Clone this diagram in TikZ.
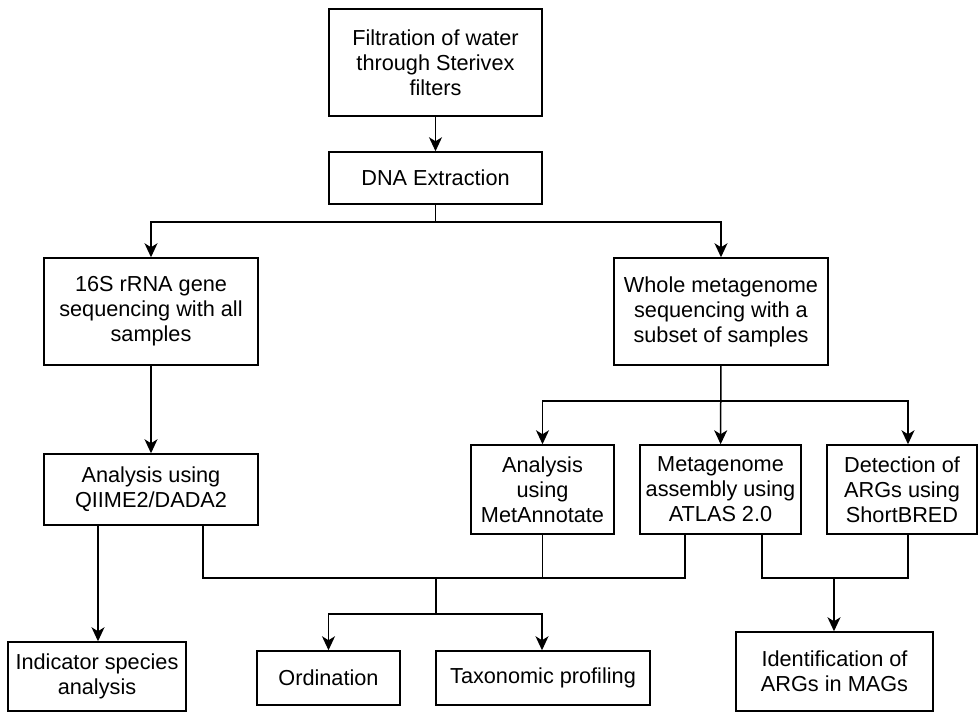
\documentclass[tikz,border=0pt]{standalone}
\usepackage{fontspec}
\setmainfont{Liberation Sans}
\usetikzlibrary{arrows.meta}
\begin{document}
\begin{tikzpicture}[x=1pt,y=-1pt,
  box/.style={draw, line width=1.5pt, rectangle, align=center, inner sep=2pt,
    font=\fontsize{21.7}{25}\selectfont},
  conn/.style={line width=1.5pt},
  arr/.style={conn, -{Stealth[length=14pt,width=13pt,inset=4pt]}}]
\useasboundingbox (0,0) rectangle (978,712);
% boxes
\node[box, minimum width=213pt, minimum height=107pt] (filt) at (435.5,62.5) {Filtration of water\\through Sterivex\\filters};
\node[box, minimum width=213pt, minimum height=52pt] (dna) at (435.5,178) {DNA Extraction};
\node[box, minimum width=214pt, minimum height=107pt] (s16) at (151,311.5) {16S rRNA gene\\sequencing with all\\samples};
\node[box, minimum width=214pt, minimum height=107pt] (whole) at (721,311.5) {Whole metagenome\\sequencing with a\\subset of samples};
\node[box, minimum width=214pt, minimum height=71pt] (qiime) at (151,489.5) {Analysis using\\QIIME2/DADA2};
\node[box, minimum width=143pt, minimum height=89pt] (metann) at (542.5,489.5) {Analysis\\using\\MetAnnotate};
\node[box, minimum width=161pt, minimum height=89pt] (metag) at (720.5,489.5) {Metagenome\\assembly using\\ATLAS 2.0};
\node[box, minimum width=150pt, minimum height=89pt] (detect) at (902,489.5) {Detection of\\ARGs using\\ShortBRED};
\node[box, minimum width=178pt, minimum height=69pt] (indic) at (97,676.5) {Indicator species\\analysis};
\node[box, minimum width=143pt, minimum height=54pt] (ordin) at (328.5,678) {Ordination};
\node[box, minimum width=214pt, minimum height=54pt] (taxo) at (543,678) {Taxonomic profiling};
\node[box, minimum width=197pt, minimum height=79pt] (ident) at (834.5,671.5) {Identification of\\ARGs in MAGs};
% junction coordinates
\coordinate (j1) at (435.5,222);
\coordinate (j2) at (721,401);
\coordinate (j3) at (436,578);
\coordinate (j4) at (436,614);
\coordinate (j5) at (834,578);
% connectors
\draw[arr] (filt) -- (dna);
\draw[conn] (dna) -- (j1);
\draw[arr] (j1) -| (s16.north);
\draw[arr] (j1) -| (whole.north);
\draw[arr] (s16) -- (qiime);
\draw[arr] (whole) -- (metag);
\draw[arr] (j2) -| (metann.north);
\draw[arr] (j2) -| ([xshift=6pt]detect.north);
\draw[arr] ([xshift=-53pt]qiime.south) -- ([xshift=1pt]indic.north);
\draw[conn] ([xshift=52pt]qiime.south) |- ([xshift=-35.5pt]metag.south |- j3) -- ([xshift=-35.5pt]metag.south);
\draw[conn] (metann.south) -- (metann.south |- j3);
\draw[conn] (j3) -- (j4);
\draw[arr] (j4) -| (ordin.north);
\draw[arr] (j4) -| ([xshift=-1pt]taxo.north);
\draw[conn] ([xshift=41.5pt]metag.south) |- ([xshift=6pt]detect.south |- j5) -- ([xshift=6pt]detect.south);
\draw[arr] (j5) -- (j5 |- ident.north);
\end{tikzpicture}
\end{document}
